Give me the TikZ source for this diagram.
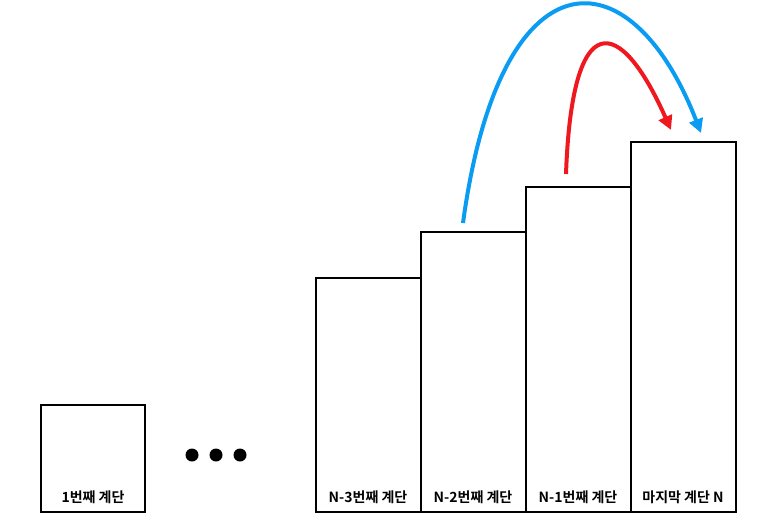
\documentclass[tikz,border=0pt]{standalone}
\usepackage{fontspec}
\newfontfamily\kr{Noto Sans CJK KR Bold}
\usetikzlibrary{arrows.meta}
\definecolor{bluearc}{HTML}{0A9CF2}
\definecolor{redarc}{HTML}{F0181F}
\tikzset{
  stair/.style={draw=black, line width=2pt},
  lbl/.style={font=\kr\fontsize{14}{16}\selectfont, inner sep=0pt},
  jump/.style={line width=4pt, -{Triangle[length=14pt,width=14pt]}},
  dot/.style={circle, fill=black, inner sep=0pt, minimum size=13pt}
}
\begin{document}
\begin{tikzpicture}[x=1pt,y=-1pt]
\useasboundingbox (0,0) rectangle (759,527);
\draw[stair] (41,405) rectangle (145,512);
\draw[stair] (316,278) rectangle (421,512);
\draw[stair] (421,232) rectangle (526,512);
\draw[stair] (526,187) rectangle (631,512);
\draw[stair] (631,142) rectangle (736,512);
\node[lbl] (l1) at (93,497) {1번째 계단};
\node[lbl] (l3) at (368,497) {N-3번째 계단};
\node[lbl] (l2) at (473,497) {N-2번째 계단};
\node[lbl] (l1b) at (578,497) {N-1번째 계단};
\node[lbl] (ln) at (683,497) {마지막 계단 N};
\node[dot] (d1) at (192,455) {};
\node[dot] (d2) at (216,455) {};
\node[dot] (d3) at (240,455) {};
\coordinate (bs) at (463,223);
\coordinate (be) at (701,133);
\coordinate (rs) at (566,174);
\coordinate (re) at (671,130);
\draw[jump, bluearc] (bs) .. controls (500,-50) and (630,-50) .. (be);
\draw[jump, redarc] (rs) .. controls (572,5) and (620,15) .. (re);
\end{tikzpicture}
\end{document}
